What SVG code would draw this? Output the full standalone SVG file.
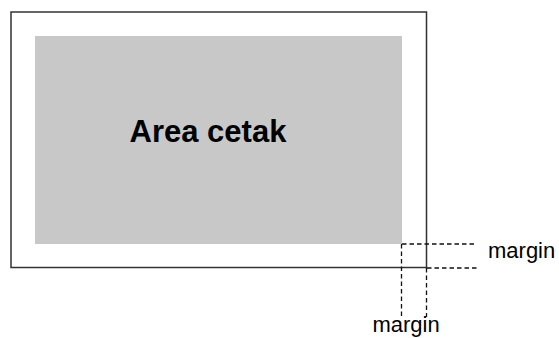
<svg xmlns="http://www.w3.org/2000/svg" width="559" height="338" viewBox="0 0 559 338">
<style>
.lbl{font-family:"Liberation Sans",Arial,sans-serif;font-size:22px;fill:#000}
.dash{stroke:#111;stroke-width:1.3;stroke-dasharray:4.5 3;fill:none}
</style>
<rect width="559" height="338" fill="#fff"/>
<g id="page">
<rect x="11" y="12" width="415.5" height="255.5" fill="#fff" stroke="#333" stroke-width="1.5"/>
</g>
<g id="print-area">
<rect x="35" y="36" width="367" height="208" fill="#c8c8c8"/>
<text x="208" y="142" text-anchor="middle" font-family="Liberation Sans, Arial, sans-serif" font-weight="bold" font-size="31">Area cetak</text>
</g>
<g id="connectors">
<line class="dash" x1="402" y1="244" x2="477" y2="244"/>
<line class="dash" x1="427" y1="268" x2="477" y2="268"/>
<line class="dash" x1="401.5" y1="244" x2="401.5" y2="317"/>
<line class="dash" x1="426.5" y1="268" x2="426.5" y2="317"/>
</g>
<g id="margin-right">
<text class="lbl" x="488" y="258">margin</text>
</g>
<g id="margin-bottom">
<text class="lbl" x="406" y="332" text-anchor="middle">margin</text>
</g>
</svg>
